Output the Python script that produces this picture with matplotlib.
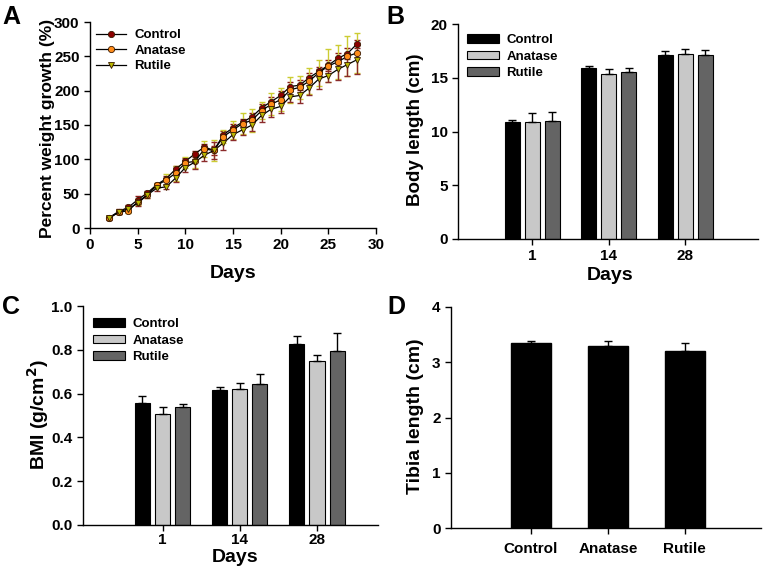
import matplotlib
matplotlib.use('Agg')
import matplotlib.pyplot as plt
import numpy as np

plt.rcParams['font.family'] = ['Liberation Sans', 'DejaVu Sans']
plt.rcParams['font.weight'] = 'bold'

groups = ['Control', 'Anatase', 'Rutile']

# panel A: percent weight growth per day
days = list(range(2, 29))
growth_control = [15, 24, 30, 41, 51, 63, 72, 86, 97, 108, 118, 113, 136, 146, 154,
                  162, 175, 184, 193, 206, 208, 219, 228, 237, 247, 254, 268]
growth_anatase = [15, 23, 25, 38, 48, 62, 70, 80, 95, 97, 115, 113, 133, 143, 152,
                  157, 171, 180, 187, 201, 205, 214, 226, 236, 242, 250, 255]
growth_rutile = [14, 23, 28, 36, 48, 58, 60, 73, 88, 96, 106, 113, 124, 136, 143,
                 150, 164, 173, 177, 191, 193, 204, 217, 222, 231, 238, 245]
err_control = [2, 3, 3, 6, 3, 3, 4, 4, 5, 4, 5, 6, 5, 5, 5,
               6, 6, 7, 6, 6, 7, 7, 7, 8, 8, 8, 6]
err_anatase = [2, 3, 3, 4, 5, 4, 8, 11, 8, 10, 12, 15, 9, 13, 15,
               17, 12, 16, 17, 19, 17, 19, 19, 24, 25, 29, 29]
err_rutile = [2, 3, 4, 4, 4, 4, 3, 6, 7, 10, 8, 12, 11, 8, 8,
              9, 10, 11, 10, 8, 11, 10, 14, 10, 15, 16, 21]

# panel B: body length (cm)
day_labels = ['1', '14', '28']
body_mean = {'Control': [10.85, 15.94, 17.12],
             'Anatase': [10.85, 15.38, 17.2],
             'Rutile': [11.0, 15.5, 17.12]}
body_err = {'Control': [0.22, 0.15, 0.4],
            'Anatase': [0.84, 0.43, 0.5],
            'Rutile': [0.81, 0.4, 0.43]}

# panel C: BMI (g/cm2)
bmi_mean = {'Control': [0.559, 0.616, 0.828],
            'Anatase': [0.509, 0.619, 0.748],
            'Rutile': [0.540, 0.644, 0.795]}
bmi_err = {'Control': [0.028, 0.013, 0.035],
           'Anatase': [0.031, 0.030, 0.029],
           'Rutile': [0.013, 0.047, 0.082]}

# panel D: tibia length (cm)
tibia_mean = [3.34, 3.29, 3.21]
tibia_err = [0.04, 0.10, 0.14]

bar_colors = {'Control': '#000000', 'Anatase': '#c8c8c8', 'Rutile': '#646464'}

W, H = 763, 568
fig = plt.figure(figsize=(W / 100, H / 100), dpi=100)


def box(x0, y0, x1, y1):
    return [x0 / W, 1 - y1 / H, (x1 - x0) / W, (y1 - y0) / H]


def ftext(px, py, s, size, rot=0):
    # text centred on a pixel position of the figure
    fig.text(px / W, 1 - py / H, s, fontsize=size, fontweight='bold',
             rotation=rot, ha='center', va='center')


def style(ax):
    ax.spines['top'].set_visible(False)
    ax.spines['right'].set_visible(False)
    for s in ('left', 'bottom'):
        ax.spines[s].set_linewidth(1.0)
    ax.tick_params(direction='out', length=4, width=1, labelsize=11)
    for lab in ax.get_xticklabels() + ax.get_yticklabels():
        lab.set_fontweight('bold')


def legend_at(ax, px, py, **kw):
    ax.legend(loc='upper left', bbox_to_anchor=(px / W, 1 - py / H),
              bbox_transform=fig.transFigure, frameon=False, borderpad=0,
              borderaxespad=0, prop={'weight': 'bold', 'size': 9.5}, **kw)


# ---- A
axA = fig.add_axes(box(90, 22, 376, 228))
series = [
    ('Control', growth_control, err_control, 'o', '#8b0000', '#8b1a1a'),
    ('Anatase', growth_anatase, err_anatase, 'o', '#ff8c1a', '#cccc33'),
    ('Rutile', growth_rutile, err_rutile, 'v', '#b8b800', '#8b2a2a'),
]
for name, vals, errs, mk, mc, ec in series:
    axA.errorbar(days, vals, yerr=errs, fmt='none', ecolor=ec, elinewidth=1,
                 capsize=2.5, capthick=1, zorder=2)
for name, vals, errs, mk, mc, ec in series:
    axA.plot(days, vals, color='black', lw=0.9, marker=mk, ms=4.5,
             mfc=mc, mec='#3a1a00', mew=0.6, label=name, zorder=3)
axA.set_xlim(0, 30)
axA.set_ylim(0, 300)
axA.set_xticks(range(0, 31, 5))
axA.set_yticks(range(0, 301, 50))
legend_at(axA, 96, 29, handlelength=2.3, handletextpad=0.6, labelspacing=0.25)
style(axA)
ftext(233, 273, 'Days', 14)
ftext(48, 128, 'Percent weight growth (%)', 12.5, 90)


def grouped(ax, means, errs):
    x = np.arange(len(day_labels))
    w = 0.195
    step = 0.26
    for i, g in enumerate(groups):
        ax.bar(x + (i - 1) * step, means[g], w, yerr=[[0] * 3, errs[g]],
               color=bar_colors[g], edgecolor='black', linewidth=0.8,
               error_kw=dict(elinewidth=1, capsize=3, capthick=1, ecolor='black'),
               label=g)
    ax.set_xticks(x)
    ax.set_xticklabels(day_labels)


# ---- B
axB = fig.add_axes(box(458, 24, 758, 239))
grouped(axB, body_mean, body_err)
axB.set_xlim(-0.97, 2.95)
axB.set_ylim(0, 20)
axB.set_yticks(range(0, 21, 5))
legend_at(axB, 467, 34, handlelength=2.4, handleheight=0.6,
          handletextpad=0.6, labelspacing=0.35)
style(axB)
ftext(610, 275, 'Days', 14)
ftext(415, 130, 'Body length (cm)', 13.5, 90)

# ---- C
axC = fig.add_axes(box(83, 306, 378, 525))
grouped(axC, bmi_mean, bmi_err)
axC.set_xlim(-1.03, 2.79)
axC.set_ylim(0, 1.0)
axC.set_yticks(np.arange(0, 1.01, 0.2))
axC.set_yticklabels(['0.0', '0.2', '0.4', '0.6', '0.8', '1.0'])
legend_at(axC, 93, 318, handlelength=2.4, handleheight=0.6,
          handletextpad=0.6, labelspacing=0.35)
style(axC)
axC.tick_params(axis='x', pad=1.5)
ftext(235, 557, 'Days', 14)
ftext(38, 415, 'BMI (g/cm$^{\\mathbf{2}}$)', 14, 90)

# ---- D
axD = fig.add_axes(box(451, 307, 761, 528))
xd = np.arange(len(groups))
axD.bar(xd, tibia_mean, 0.52, yerr=[[0] * 3, tibia_err], color='black',
        edgecolor='black', error_kw=dict(elinewidth=1, capsize=3, capthick=1))
axD.set_xticks(xd)
axD.set_xticklabels(groups)
axD.set_xlim(-1.04, 2.99)
axD.set_ylim(0, 4)
axD.set_yticks(range(0, 5))
style(axD)
axD.tick_params(axis='x', pad=6)
ftext(415, 416, 'Tibia length (cm)', 14, 90)

# panel letters
for letter, (px, py) in zip('ABCD', [(11, 17), (395, 17), (11, 307), (396, 307)]):
    ftext(px, py, letter, 18)

fig.savefig('out.png', dpi=100, facecolor='white')
